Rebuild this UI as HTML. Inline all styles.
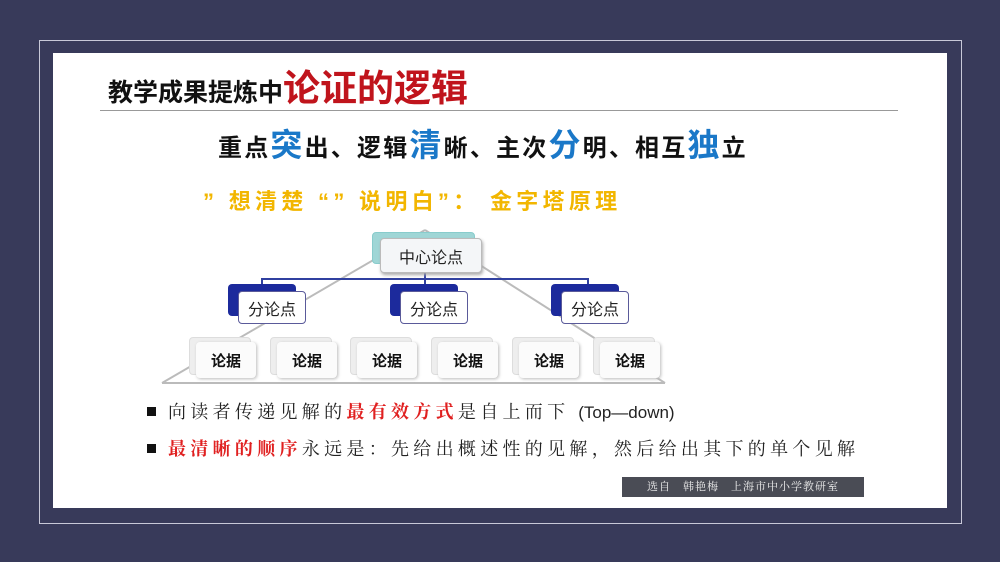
<!DOCTYPE html>
<html><head><meta charset="utf-8"><style>
*{margin:0;padding:0;box-sizing:border-box}
body{width:1000px;height:562px;background:#383a5a;position:relative;overflow:hidden;font-family:"Liberation Sans","Noto Sans CJK SC",sans-serif}
.frame{position:absolute;left:39px;top:40px;width:923px;height:484px;border:1px solid #c8c8d8}
.panel{position:absolute;left:53px;top:53px;width:894px;height:455px;background:#fff}
.abs{position:absolute;white-space:nowrap}
.node{position:absolute;border-radius:4px;font-weight:bold;display:flex;align-items:center;justify-content:center}
.bul{position:absolute;left:147px;width:9px;height:9px;background:#111}
.t{position:absolute;left:168px;font-family:"Liberation Serif","Noto Serif CJK SC",serif;font-size:18px;letter-spacing:4.3px;color:#222;white-space:nowrap}
.r{color:#e02020;font-weight:bold}
</style></head><body>
<div class="frame"></div>
<div class="panel"></div>
<div class="abs" style="left:108px;top:69px;font-size:25px;font-weight:bold;color:#111;line-height:40px">教学成果提炼中<span style="color:#c0141c;font-size:37px">论证的逻辑</span></div>
<div class="abs" style="left:100px;top:110px;width:798px;height:1px;background:#999"></div>
<div class="abs" style="left:218px;top:126px;font-size:24px;font-weight:bold;color:#111;letter-spacing:2.2px;line-height:38px">重点<span style="color:#1a78c8;font-size:32px">突</span>出、逻辑<span style="color:#1a78c8;font-size:32px">清</span>晰、主次<span style="color:#1a78c8;font-size:32px">分</span>明、相互<span style="color:#1a78c8;font-size:32px">独</span>立</div>
<div class="abs" style="left:203px;top:184px;font-size:22px;font-weight:bold;color:#f2b600;letter-spacing:4.3px">” 想清楚 “” 说明白”： 金字塔原理</div>

<svg class="abs" style="left:0;top:0" width="1000" height="562">
<polyline points="162,383 665,383" stroke="#bbb" stroke-width="2" fill="none"/>
<line x1="162" y1="383" x2="425" y2="230" stroke="#bbb" stroke-width="2"/>
<line x1="665" y1="383" x2="425" y2="230" stroke="#bbb" stroke-width="2"/>
<polyline points="262,290 262,279 588,279 588,290" stroke="#3040a0" stroke-width="2" fill="none"/>
<line x1="425" y1="272" x2="425" y2="290" stroke="#3040a0" stroke-width="2"/>
</svg>

<div class="node" style="left:372px;top:232px;width:103px;height:32px;background:#9fd6d6;border:1px solid #8cc"></div>
<div class="node" style="left:380px;top:238px;width:102px;height:35px;background:#f4f6f8;border:1px solid #bbb;box-shadow:1px 2px 3px #aaa;font-size:16px;font-weight:normal;color:#222">中心论点</div>

<div class="node" style="left:228px;top:284px;width:68px;height:32px;background:#1c2a9c"></div>
<div class="node" style="left:238px;top:291px;width:68px;height:33px;background:#fff;border:1px solid #5a5a9a;font-size:16px;font-weight:normal;color:#222">分论点</div>
<div class="node" style="left:390px;top:284px;width:68px;height:32px;background:#1c2a9c"></div>
<div class="node" style="left:400px;top:291px;width:68px;height:33px;background:#fff;border:1px solid #5a5a9a;font-size:16px;font-weight:normal;color:#222">分论点</div>
<div class="node" style="left:551px;top:284px;width:68px;height:32px;background:#1c2a9c"></div>
<div class="node" style="left:561px;top:291px;width:68px;height:33px;background:#fff;border:1px solid #5a5a9a;font-size:16px;font-weight:normal;color:#222">分论点</div>

<div class="node" style="left:189px;top:337px;width:62px;height:38px;background:#eee;border:1px solid #ddd"></div>
<div class="node" style="left:196px;top:342px;width:60px;height:36px;background:#fbfbfb;box-shadow:1px 1px 3px #bbb;font-size:15px;color:#111">论据</div>
<div class="node" style="left:270px;top:337px;width:62px;height:38px;background:#eee;border:1px solid #ddd"></div>
<div class="node" style="left:277px;top:342px;width:60px;height:36px;background:#fbfbfb;box-shadow:1px 1px 3px #bbb;font-size:15px;color:#111">论据</div>
<div class="node" style="left:350px;top:337px;width:62px;height:38px;background:#eee;border:1px solid #ddd"></div>
<div class="node" style="left:357px;top:342px;width:60px;height:36px;background:#fbfbfb;box-shadow:1px 1px 3px #bbb;font-size:15px;color:#111">论据</div>
<div class="node" style="left:431px;top:337px;width:62px;height:38px;background:#eee;border:1px solid #ddd"></div>
<div class="node" style="left:438px;top:342px;width:60px;height:36px;background:#fbfbfb;box-shadow:1px 1px 3px #bbb;font-size:15px;color:#111">论据</div>
<div class="node" style="left:512px;top:337px;width:62px;height:38px;background:#eee;border:1px solid #ddd"></div>
<div class="node" style="left:519px;top:342px;width:60px;height:36px;background:#fbfbfb;box-shadow:1px 1px 3px #bbb;font-size:15px;color:#111">论据</div>
<div class="node" style="left:593px;top:337px;width:62px;height:38px;background:#eee;border:1px solid #ddd"></div>
<div class="node" style="left:600px;top:342px;width:60px;height:36px;background:#fbfbfb;box-shadow:1px 1px 3px #bbb;font-size:15px;color:#111">论据</div>

<div class="bul" style="top:407px"></div>
<div class="t" style="top:398px">向读者传递见解的<span class="r">最有效方式</span>是自上而下 <span style="letter-spacing:0;font-family:'Liberation Sans',sans-serif;font-size:17px">(Top—down)</span></div>
<div class="bul" style="top:444px"></div>
<div class="t" style="top:435px"><span class="r">最清晰的顺序</span>永远是：先给出概述性的见解，然后给出其下的单个见解</div>

<div class="abs" style="left:622px;top:477px;width:242px;height:20px;background:#4a4c55;color:#eee;font-family:'Liberation Serif','Noto Serif CJK SC',serif;font-size:11px;line-height:20px;text-align:center;letter-spacing:1px">选自　韩艳梅　上海市中小学教研室</div>
</body></html>
